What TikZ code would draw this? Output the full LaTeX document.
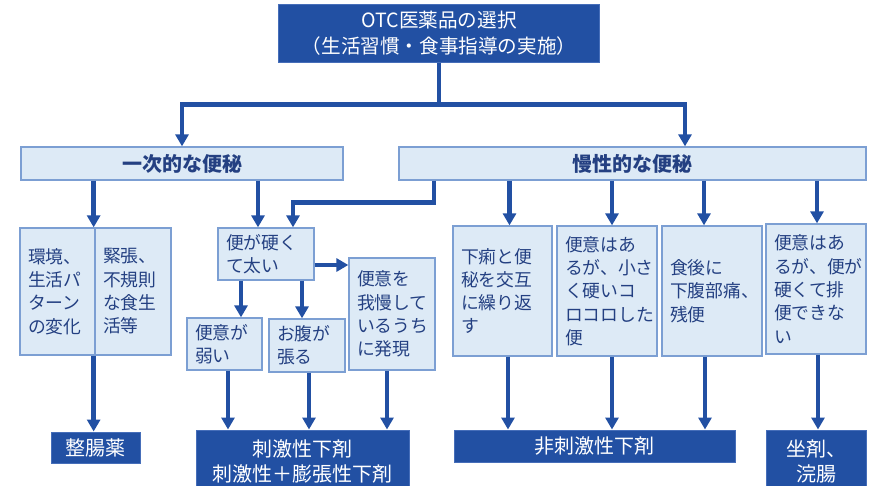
\documentclass[tikz,border=0pt]{standalone}
\usepackage{fontspec}
\usepackage{tikz}
\usetikzlibrary{arrows.meta,calc,positioning}
\newfontfamily\jpfont{Noto Sans CJK JP}
\definecolor{otc-blue}{RGB}{34,80,163}
\definecolor{otc-edge}{RGB}{70,110,185}
\definecolor{pale-blue}{RGB}{221,234,246}
\definecolor{pale-edge}{RGB}{124,159,211}
\definecolor{ink-blue}{RGB}{36,64,130}
\tikzset{
  darkbox/.style 2 args={draw=otc-edge, fill=otc-blue, line width=1pt, text=white,
    minimum width=#1pt, minimum height=#2pt, inner sep=0pt, align=center,
    font=\jpfont\fontsize{20}{25}\selectfont},
  headbox/.style 2 args={draw=pale-edge, fill=pale-blue, line width=1.3pt, text=ink-blue,
    minimum width=#1pt, minimum height=#2pt, inner sep=0pt,
    font=\jpfont\bfseries\fontsize{20}{25}\selectfont},
  lightbox/.style 2 args={draw=pale-edge, fill=pale-blue, line width=1.3pt, text=ink-blue,
    minimum width=#1pt, minimum height=#2pt, inner xsep=8pt, inner ysep=0pt,
    text width=#1pt-16pt, align=left,
    font=\jpfont\fontsize{17.8}{23.3}\selectfont},
  conn/.style={draw=otc-blue, line width=4.6pt},
  arr/.style={conn, -{Triangle[width=13pt,length=12pt]}},
}

\begin{document}
\begin{tikzpicture}[x=1pt,y=-1pt]
  \useasboundingbox (0,0) rectangle (874,485);

  % top and the two groups
  \node[darkbox={321}{58}, font=\jpfont\fontsize{19.6}{25.7}\selectfont] (top) at (439,33)
    {OTC医薬品の選択\\（生活習慣・食事指導の実施）};
  \node[headbox={322}{33}] (ichiji) at (182,163.5) {一次的な便秘};
  \node[headbox={467}{33}] (mansei) at (632.5,163.5) {慢性的な便秘};

  % primary constipation
  \node[lightbox={75}{127}] (kankyo) at (57.5,291.5) {環境、\\生活パ\\ターン\\の変化};
  \node[lightbox={76}{127}] (kincho) at (133,291.5) {緊張、\\不規則\\な食生\\活等};
  \node[lightbox={96}{52}] (katai) at (266,254) {便が硬く\\て太い};
  \node[lightbox={75}{52}] (yowai) at (224.5,344) {便意が\\弱い};
  \node[lightbox={76}{53}] (hara) at (307,345.5) {お腹が\\張る};
  \node[lightbox={86}{112}] (gaman) at (392,314) {便意を\\我慢して\\いるうち\\に発現};

  % chronic constipation
  \node[lightbox={99}{130}] (geri) at (502.5,291) {下痢と便\\秘を交互\\に繰り返\\す};
  \node[lightbox={100}{130}] (korokoro) at (607,291) {便意はあ\\るが、小さ\\く硬いコ\\ロコロした\\便};
  \node[lightbox={100}{130}] (shokugo) at (712,291) {食後に\\下腹部痛、\\残便};
  \node[lightbox={100}{130}] (haiben) at (816,289) {便意はあ\\るが、便が\\硬くて排\\便できな\\い};

  % remedies
  \node[darkbox={89}{31}] (seicho) at (95.5,447.5) {整腸薬};
  \node[darkbox={213}{62}] (shigeki) at (302.5,461) {刺激性下剤\\刺激性＋膨張性下剤};
  \node[darkbox={281}{32}] (hishigeki) at (594.5,446) {非刺激性下剤};
  \node[darkbox={100}{62}] (zazai) at (816,461) {坐剤、\\浣腸};

  % top split
  \coordinate (split) at ($(top.south)+(0,42)$);
  \coordinate (mIn) at ([xshift=52.5]mansei.north);
  \draw[conn] (top.south) -- (split);
  \draw[arr] (split) -| (ichiji.north);
  \draw[arr] (split) -| (mIn);

  % from primary
  \coordinate (kkIn) at ([xshift=-2]kankyo.north east);
  \coordinate (kIn) at ([xshift=-8]katai.north);
  \draw[arr] (ichiji.south -| kkIn) -- (kkIn);
  \draw[arr] (ichiji.south -| kIn) -- (kIn);

  % from chronic to hard stool
  \coordinate (mK) at ([xshift=-198.5]mansei.south);
  \coordinate (kIn2) at ([xshift=27]katai.north);
  \coordinate (kTurn) at ($(kIn2)+(0,-25)$);
  \draw[arr] (mK) |- (kTurn) -- (kIn2);

  % hard stool branches
  \coordinate (kOut) at ([yshift=-11]katai.east);
  \coordinate (yIn) at ([xshift=16.5]yowai.north);
  \coordinate (hIn) at ([xshift=-5]hara.north);
  \draw[arr] (kOut) -- (kOut -| gaman.west);
  \draw[arr] (katai.south -| yIn) -- (yIn);
  \draw[arr] (katai.south -| hIn) -- (hIn);

  % chronic branches
  \foreach \b/\s in {geri/7, korokoro/5, shokugo/-8, haiben/1}{
    \coordinate (\b In) at ([xshift=\s]\b.north);
    \draw[arr] (mansei.south -| \b In) -- (\b In);
  }

  % to remedies
  \coordinate (o1) at ([xshift=-2]kankyo.south east);
  \coordinate (o2) at ([xshift=3.5]yowai.south);
  \coordinate (o3) at ([xshift=2]hara.south);
  \coordinate (o4) at ([xshift=-5]gaman.south);
  \coordinate (o5) at ([xshift=5.5]geri.south);
  \coordinate (o6) at ([xshift=5]korokoro.south);
  \coordinate (o7) at ([xshift=-7]shokugo.south);
  \coordinate (o8) at ([xshift=2]haiben.south);
  \draw[arr] (o1) -- (o1 |- seicho.north);
  \draw[arr] (o2) -- (o2 |- shigeki.north);
  \draw[arr] (o3) -- (o3 |- shigeki.north);
  \draw[arr] (o4) -- (o4 |- shigeki.north);
  \draw[arr] (o5) -- (o5 |- hishigeki.north);
  \draw[arr] (o6) -- (o6 |- hishigeki.north);
  \draw[arr] (o7) -- (o7 |- hishigeki.north);
  \draw[arr] (o8) -- (o8 |- zazai.north);
\end{tikzpicture}
\end{document}
